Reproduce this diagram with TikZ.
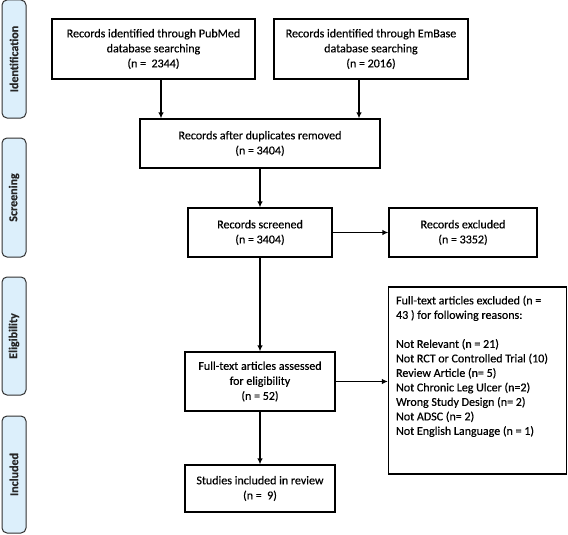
\documentclass[tikz,border=0pt]{standalone}
\usepackage{fontspec}
\setmainfont{Carlito}[FakeBold=0.4]
\usetikzlibrary{arrows.meta}
\definecolor{sidefill}{HTML}{DCEFFB}
\definecolor{sidedraw}{HTML}{303030}
\begin{document}
\begin{tikzpicture}[x=1pt,y=-1pt,
  box/.style={draw=black,line width=1.2pt,rectangle,align=center,inner sep=2pt,
    font=\fontsize{12}{15}\selectfont},
  side/.style={draw=sidedraw,fill=sidefill,line width=1pt,rounded corners=5pt,
    minimum width=24,anchor=center},
  sidetext/.style={font=\fontsize{12}{14}\selectfont\bfseries,text=black!85,rotate=90},
  arr/.style={line width=1.6pt,-{Latex[length=6pt,width=5.5pt]}}]
\useasboundingbox (0,0) rectangle (568,535);
% side labels
\node[side,minimum height=118] (sid) at (14,59) {};
\node[sidetext] (sidt) at (sid.center) {Identification};
\node[side,minimum height=119] (ssc) at (14,197.5) {};
\node[sidetext] (ssct) at (ssc.center) {Screening};
\node[side,minimum height=118] (sel) at (14,336) {};
\node[sidetext] (selt) at (sel.center) {Eligibility};
\node[side,minimum height=117] (sin) at (14,474.5) {};
\node[sidetext] (sint) at (sin.center) {Included};
% boxes
\node[box,minimum width=203,minimum height=60] (pub) at (153.5,49)
  {Records identified through PubMed\\database searching\\(n = \ 2344)};
\node[box,minimum width=194,minimum height=60] (emb) at (371,49)
  {Records identified through EmBase\\database searching\\(n = 2016)};
\node[box,minimum width=240,minimum height=49] (dup) at (260,143.5)
  {Records after duplicates removed\\(n = 3404)};
\node[box,minimum width=144,minimum height=49] (scr) at (260,232.5)
  {Records screened\\(n = 3404)};
\node[box,minimum width=148,minimum height=49] (exc) at (463,232.5)
  {Records excluded\\(n = 3352)};
\node[box,minimum width=150,minimum height=59] (ass) at (260,381.5)
  {Full-text articles assessed\\for eligibility\\(n = 52)};
\node[box,minimum width=178,minimum height=187,
  label={[anchor=north west,xshift=8pt,yshift=-9pt,align=left,inner sep=0pt,
    font=\fontsize{12}{14.5}\selectfont]north west:Full-text articles excluded (n =\\43 ) for following reasons:\\[14.5pt]Not Relevant (n = 21)\\Not RCT or Controlled Trial (10)\\Review Article (n= 5)\\Not Chronic Leg Ulcer (n=2)\\Wrong Study Design (n= 2)\\Not ADSC (n= 2)\\Not English Language (n = 1)}]
  (fte) at (477.5,380.5) {};
\node[box,minimum width=150,minimum height=47] (inc) at (260,488.5)
  {Studies included in review\\(n = \ 9)};
% arrows
\draw[arr] ([xshift=7.5pt]pub.south) -- ([xshift=7.5pt]pub.south |- dup.north);
\draw[arr] ([xshift=-12pt]emb.south) -- ([xshift=-12pt]emb.south |- dup.north);
\draw[arr] (dup.south) -- (scr.north);
\draw[arr] (scr.east) -- (exc.west);
\draw[arr] (scr.south) -- (ass.north);
\draw[arr] (ass.east) -- (ass.east -| fte.west);
\draw[arr] (ass.south) -- (inc.north);
\end{tikzpicture}
\end{document}
